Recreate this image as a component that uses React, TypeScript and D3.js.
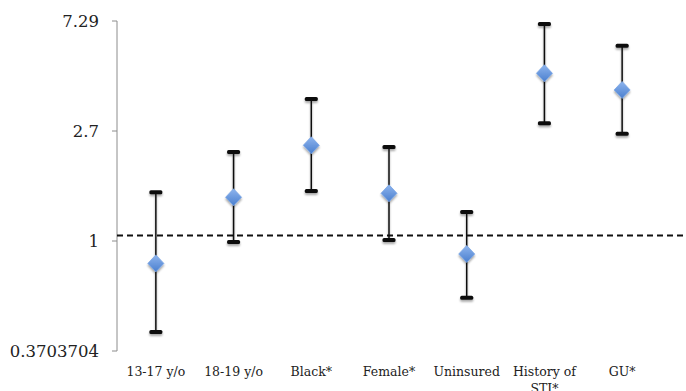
import React from "react";
import * as d3 from "d3";

// odds ratios
const categories = ["13-17 y/o", "18-19 y/o", "Black*", "Female*", "Uninsured", "History of STI*", "GU*"];
const estimates = [0.817, 1.484, 2.373, 1.538, 0.889, 4.546, 3.91];
const lowerCI = [0.44, 0.99, 1.571, 1.009, 0.599, 2.895, 2.635];
const upperCI = [1.553, 2.234, 3.605, 2.337, 1.299, 7.1, 5.833];
const tickValues = [0.3703704, 1, 2.7, 7.29];
const tickLabels = ["0.3703704", "1", "2.7", "7.29"];
const referenceValue = 1.05;

const width = 686;
const height = 391;
const marginLeft = 117;
const marginTop = 21;
const plotBottom = 351;
const plotRight = 661;

const App = () => {
  const y = d3.scaleLog().base(2.7).domain([tickValues[0], tickValues[3]]).range([plotBottom, marginTop]);
  const x = d3.scaleBand().domain(categories).range([marginLeft, plotRight]);
  const cx = (c: string) => (x(c) as number) + x.bandwidth() / 2;

  const wrap = (label: string) => {
    // split long labels into two lines like the original
    if (label.length > 10 && label.includes(" ")) {
      const i = label.lastIndexOf(" ");
      return [label.slice(0, i), label.slice(i + 1)];
    }
    return [label];
  };

  return (
    <svg
      width={width}
      height={height}
      style={{ position: "absolute", left: 0, top: 0, background: "#fff" }}
    >
      <defs>
        <linearGradient id="diamondFill" x1="0" y1="0" x2="0" y2="1">
          <stop offset="0%" stopColor="#8db4ee" />
          <stop offset="100%" stopColor="#4a7fce" />
        </linearGradient>
        <filter id="shadow" x="-50%" y="-50%" width="200%" height="200%">
          <feGaussianBlur in="SourceAlpha" stdDeviation="1.2" />
          <feOffset dx="0" dy="2" result="b" />
          <feComponentTransfer>
            <feFuncA type="linear" slope="0.35" />
          </feComponentTransfer>
          <feMerge>
            <feMergeNode />
            <feMergeNode in="SourceGraphic" />
          </feMerge>
        </filter>
      </defs>

      {/* y axis */}
      <g stroke="#8c8c8c" strokeWidth={1}>
        <line x1={marginLeft} x2={marginLeft} y1={y(tickValues[3])} y2={y(tickValues[0])} />
        {tickValues.map((t) => (
          <line key={t} x1={marginLeft - 5} x2={marginLeft} y1={y(t)} y2={y(t)} />
        ))}
      </g>
      <g fontFamily="'DejaVu Serif', serif" fontSize={16.5} fill="#222" textAnchor="end">
        {tickValues.map((t, i) => (
          <text key={t} x={marginLeft - 18} y={y(t)} dy="0.36em">
            {tickLabels[i]}
          </text>
        ))}
      </g>

      {/* reference line */}
      <line
        x1={marginLeft}
        x2={width}
        y1={y(referenceValue)}
        y2={y(referenceValue)}
        stroke="#111"
        strokeWidth={2}
        strokeDasharray="6,4"
      />

      {/* error bars */}
      {categories.map((c, i) => (
        <g key={c} filter="url(#shadow)">
          <line x1={cx(c)} x2={cx(c)} y1={y(upperCI[i])} y2={y(lowerCI[i])} stroke="#111" strokeWidth={1.5} />
          <rect x={cx(c) - 6.5} y={y(upperCI[i]) - 2} width={13} height={4} rx={1.5} fill="#111" />
          <rect x={cx(c) - 6.5} y={y(lowerCI[i]) - 2} width={13} height={4} rx={1.5} fill="#111" />
          <path
            d={`M${cx(c)},${y(estimates[i]) - 8.5}L${cx(c) + 8},${y(estimates[i])}L${cx(c)},${y(estimates[i]) + 8.5}L${cx(c) - 8},${y(estimates[i])}Z`}
            fill="url(#diamondFill)"
            stroke="#7aa6e6"
            strokeWidth={0.8}
          />
        </g>
      ))}

      {/* category labels */}
      <g fontFamily="'DejaVu Serif', serif" fontSize={12.5} fill="#222" textAnchor="middle">
        {categories.map((c) => (
          <text key={c} x={cx(c)} y={376}>
            {wrap(c).map((line, j) => (
              <tspan key={j} x={cx(c)} dy={j === 0 ? 0 : 17}>
                {line}
              </tspan>
            ))}
          </text>
        ))}
      </g>
    </svg>
  );
};

export default App;
